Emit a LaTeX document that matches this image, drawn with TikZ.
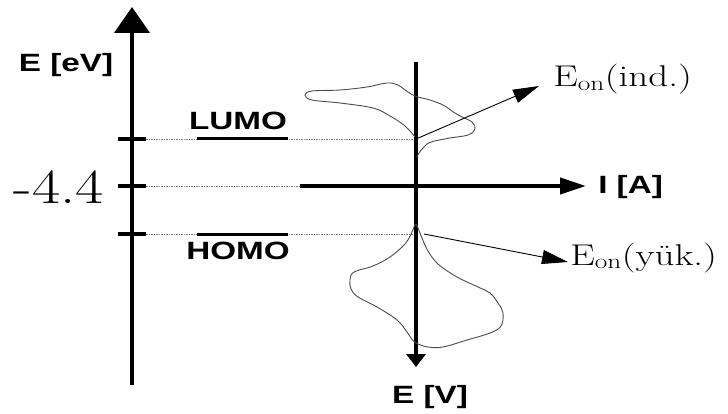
\documentclass[tikz,border=0pt]{standalone}
\usepackage{fontspec}
\newfontfamily\arialb[Scale=1]{Liberation Sans}
\usetikzlibrary{arrows.meta}
\begin{document}
\begin{tikzpicture}[x=1pt,y=-1pt,
  axis/.style={line width=4pt},
  tick/.style={line width=3.5pt},
  guide/.style={line width=0.6pt,gray,dash pattern=on 1.5pt off 1pt},
  level/.style={line width=3pt},
  curve/.style={line width=0.9pt,black!70},
  sanslab/.style={font=\arialb\bfseries\fontsize{25}{30}\selectfont,xscale=1.33,inner sep=0pt},
  seriflab/.style={font=\fontsize{30}{34}\selectfont,xscale=1.3,inner sep=0pt},
  pointer/.style={line width=0.9pt,-{Triangle[length=26pt,width=14pt]}}]
\useasboundingbox (0,0) rectangle (728,414);
% coordinates
\coordinate (Lbot) at (132,385);
\coordinate (Ltop) at (132,7);
\coordinate (Rtop) at (416,62);
\coordinate (Rbot) at (416,367);
\coordinate (Hl) at (300,186);
\coordinate (Hr) at (586,186);
\coordinate (lumoA) at (146,139);
\coordinate (lumoB) at (416,139);
\coordinate (midA) at (146,186);
\coordinate (homoA) at (146,234);
\coordinate (homoB) at (416,234);
% guide lines
\draw[guide] (lumoA) -- (lumoB);
\draw[guide] (midA) -- (Hl);
\draw[guide] (homoA) -- (homoB);
% level bars
\draw[level] (197,139) -- (288,139);
\draw[level] (197,234) -- (288,234);
% ticks
\draw[tick] (118,139) -- (146,139);
\draw[tick] (118,186) -- (146,186);
\draw[tick] (118,234) -- (146,234);
% axes
\draw[axis,-{Triangle[length=26pt,width=35pt]}] (Lbot) -- (Ltop);
\draw[axis,-{Triangle[length=26pt,width=16pt]}] (Hl) -- (Hr);
\draw[axis,-{Triangle[length=13pt,width=19pt]}] (Rtop) -- (Rbot);
% curves
\draw[curve] plot[smooth,tension=0.6] coordinates {(415,137) (405,126) (390,116) (373,108) (340,103) (312,100) (305,95) (312,91) (340,90) (367,87) (387,83) (398,85) (405,90) (415,96) (430,100) (443,105) (452,111) (460,116) (472,122) (475,129) (468,135) (450,138) (431,142) (424,147) (419,153) (417,157)};
\draw[curve] plot[smooth,tension=0.6] coordinates {(415,224) (412,232) (405,244) (390,257) (373,266) (354,272) (350,280) (351,289) (358,297) (377,307) (397,320) (407,332) (411,338) (416,343) (428,347) (443,347) (467,340) (490,333) (501,326) (503,313) (498,303) (490,293) (478,287) (457,277) (438,264) (428,251) (422,238) (418,228) (416,224)};
% pointers
\coordinate (pind) at (539,86);
\coordinate (pyuk) at (568,262);
\draw[pointer] (lumoB) -- (pind);
\draw[pointer] (424,234) -- (pyuk);
% labels
\node[sanslab,anchor=base] (eev) at (66,72) {E [eV]};
\node[sanslab,anchor=base] (lumo) at (238,130) {LUMO};
\node[sanslab,anchor=base] (homo) at (238,259) {HOMO};
\node[sanslab,anchor=base west] (ia) at (598,194) {I [A]};
\node[sanslab,anchor=base] (ev) at (430,403) {E [V]};
\node[font=\fontsize{49}{54}\selectfont,xscale=1.25,inner sep=0pt,anchor=base] (m44) at (59,204) {-4.4};
\node[seriflab,anchor=base west] (eind) at (553,87) {E$_{\mathrm{on}}$(ind.)};
\node[seriflab,anchor=base west] (eyuk) at (570,265) {E$_{\mathrm{on}}$(yük.)};
\end{tikzpicture}
\end{document}
